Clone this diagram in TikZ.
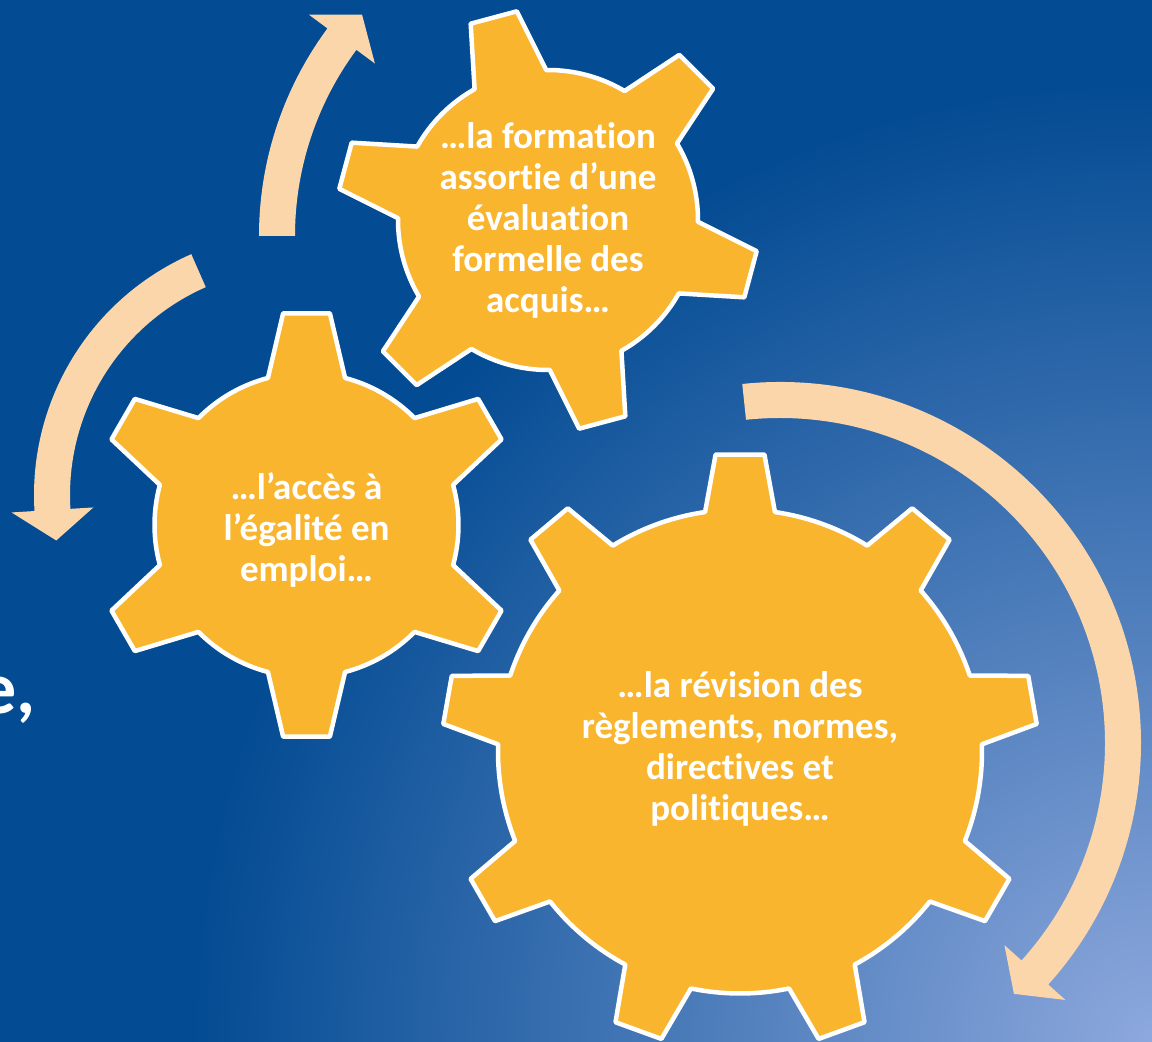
\documentclass[tikz,border=0pt]{standalone}
\usepackage{fontspec}
\setmainfont{Carlito}[Ligatures=NoCommon]
\usetikzlibrary{calc}
\definecolor{slidedark}{RGB}{3,75,147}
\definecolor{slidelight}{RGB}{141,168,221}
\definecolor{gearorange}{RGB}{249,181,46}
\definecolor{arrowpeach}{RGB}{252,214,171}
\pgfdeclareradialshading{slideglow}{\pgfpoint{0bp}{0bp}}{color(0bp)=(slidelight); color(24bp)=(slidedark); color(25bp)=(slidedark); color(50bp)=(slidedark)}

% #1 centre, #2 teeth, #3 first tooth, #4 root radius, #5 tip radius, #6 base half-angle, #7 tip half-angle
\newcommand{\gear}[7]{%
  \pgfmathsetmacro{\gs}{360/#2}
  \draw[gearbody, shift={#1}] ({#3-#6}:#4)
    \foreach \k in {1,...,#2} {
      -- ({#3+(\k-1)*\gs-#7}:#5) -- ({#3+(\k-1)*\gs+#7}:#5) -- ({#3+(\k-1)*\gs+#6}:#4)
      arc[start angle={#3+(\k-1)*\gs+#6}, end angle={#3+\k*\gs-#6}, radius=#4]
    } -- cycle;}

% #1 centre, #2 tail angle, #3 head angle, #4 tip angle, #5 middle radius
\newcommand{\cyclearrow}[5]{%
  \fill[arrowpeach, shift={#1}] ({#2}:{#5+18}) arc[start angle=#2, end angle=#3, radius={#5+18}]
    -- ({#3}:{#5+41}) -- ({#4}:#5) -- ({#3}:{#5-41}) -- ({#3}:{#5-18})
    arc[start angle=#3, end angle=#2, radius={#5-18}] -- cycle;}

\begin{document}
\begin{tikzpicture}[x=1pt, y=1pt,
  gearbody/.style={fill=gearorange, draw=white, line width=4.5pt, line join=round},
  geartext/.style={text=white, font=\bfseries\fontsize{37}{41}\selectfont, align=center}]
\useasboundingbox (0,0) rectangle (1152,1042);
% slide background
\fill[slidedark] (0,0) rectangle (1152,1042);
\begin{scope}
\clip (0,0) rectangle (1152,1042);
\shade[shading=slideglow] (1152,0) circle (1000);
\node[anchor=base west, inner sep=0pt, text=white, font=\bfseries\fontsize{74}{86}\selectfont] (title) at (-21,328) {e,};
\end{scope}

% turning arrows
\cyclearrow{(608,806)}{180}{143.5}{138}{331}
\cyclearrow{(297,547)}{113.7}{183.5}{190.7}{245}
\cyclearrow{(780,299)}{96}{-42}{-47}{343}

% gears
\gear{(548,822)}{6}{105}{150}{211}{14.3}{6.5}
\gear{(306.5,517)}{6}{90}{152}{213}{14.7}{6.3}
\gear{(740,290.5)}{9}{90}{242}{298}{8.3}{4.7}

\node[geartext] (formation) at (548,822) {…la formation\\assortie d’une\\évaluation\\formelle des\\acquis…};
\node[geartext] (acces) at (306.5,512) {…l’accès à\\l’égalité en\\emploi…};
\node[geartext] (revision) at (740,293) {…la révision des\\règlements, normes,\\directives et\\politiques…};
\end{tikzpicture}
\end{document}
